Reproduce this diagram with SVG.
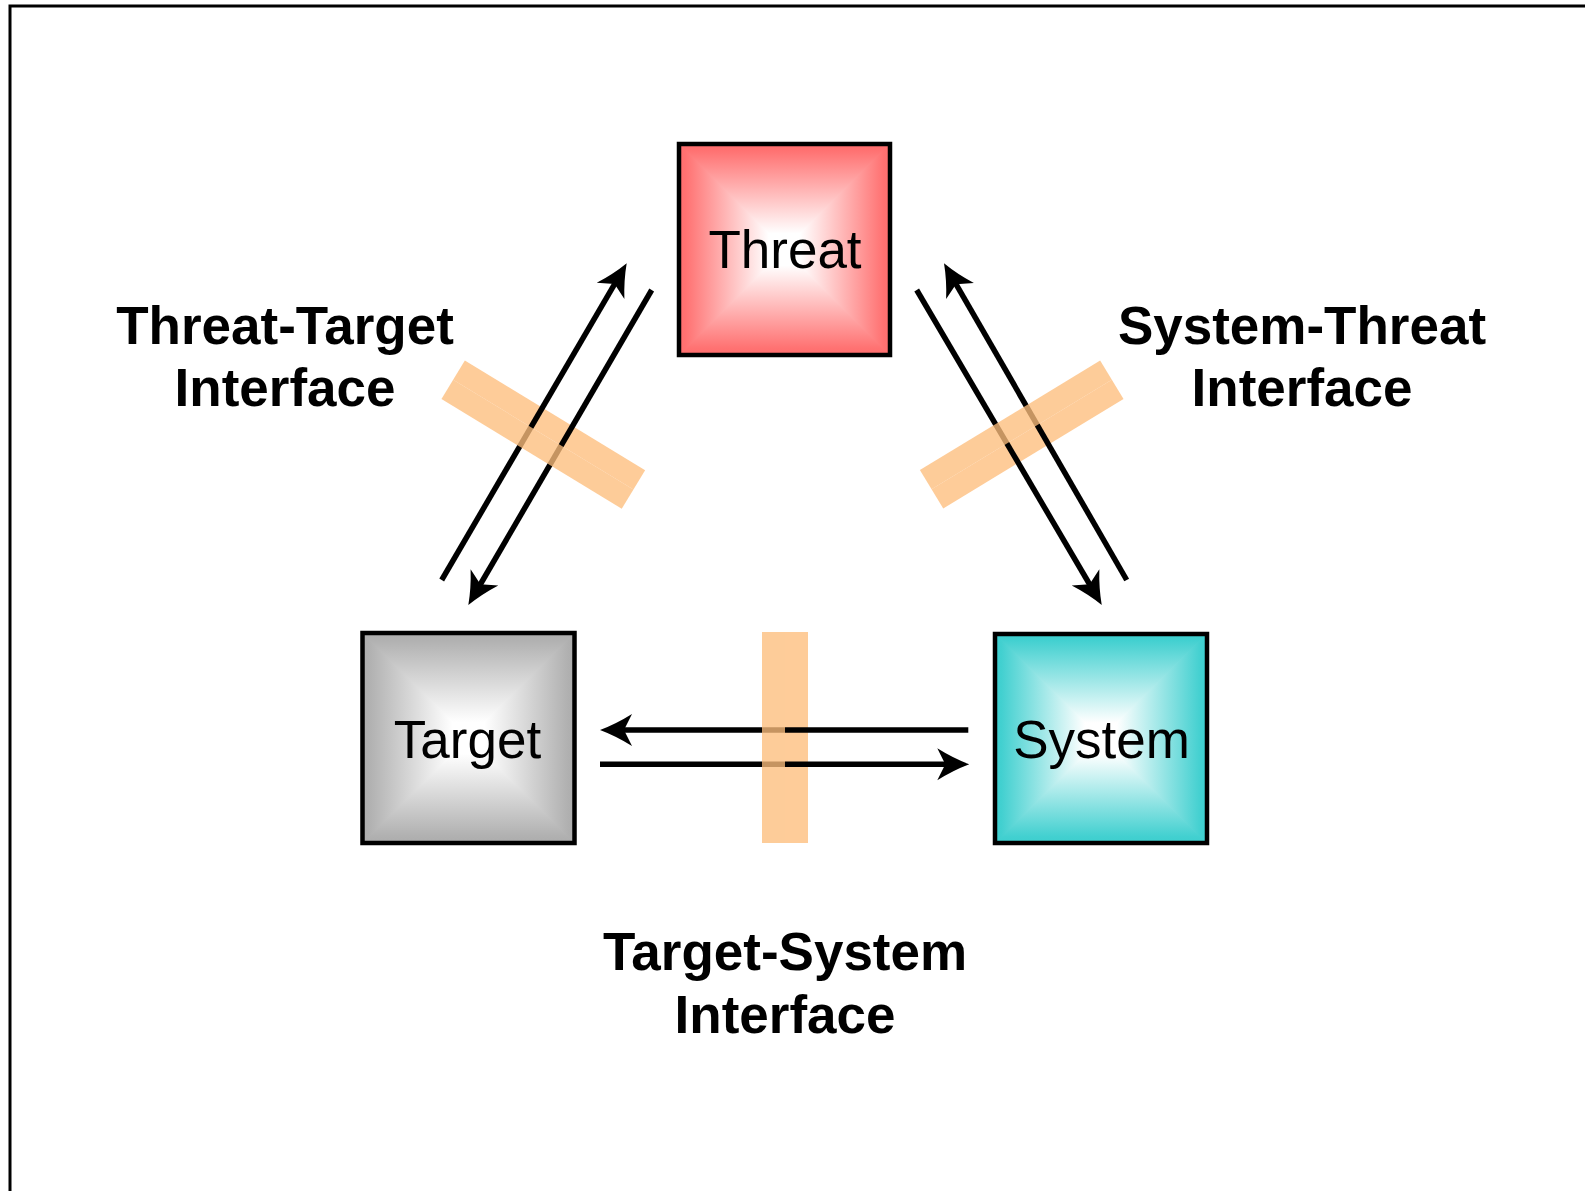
<svg xmlns="http://www.w3.org/2000/svg" width="1585" height="1191" viewBox="0 0 1585 1191">
  <style>
    .node-text { font-family: "Liberation Sans", Arial, sans-serif; font-size: 53px; fill: #000; text-anchor: middle; }
    .label { font-family: "Liberation Sans", Arial, sans-serif; font-size: 53px; font-weight: bold; fill: #000; text-anchor: middle; }
    .box { fill: none; stroke: #000; stroke-width: 4.5; }
    .conn { fill: none; stroke: #000; stroke-width: 5.5; marker-end: url(#arrow); }
    .bar-under { fill: #FECC99; }
    .bar-over { fill: #FCBE7C; fill-opacity: 0.78; }
    .tri { stroke-width: 1.2; }
  </style>
  <defs>
    <marker id="arrow" markerUnits="userSpaceOnUse" orient="auto" markerWidth="40" markerHeight="40" refX="0" refY="0" overflow="visible">
      <path d="M22,0 Q6,-6 -10,-16 L-2,0 L-10,16 Q6,6 22,0 Z" fill="#000"/>
    </marker>
    <!-- red -->
    <linearGradient id="rT" x1="0" y1="0" x2="0" y2="1"><stop offset="0" stop-color="#FF6E6E"/><stop offset="0.06" stop-color="#FF7171"/><stop offset="0.85" stop-color="#FFFFFF"/></linearGradient>
    <linearGradient id="rB" x1="0" y1="1" x2="0" y2="0"><stop offset="0" stop-color="#FF6E6E"/><stop offset="0.06" stop-color="#FF7171"/><stop offset="0.85" stop-color="#FFFFFF"/></linearGradient>
    <linearGradient id="rL" x1="0" y1="0" x2="1" y2="0"><stop offset="0" stop-color="#FF6E6E"/><stop offset="0.06" stop-color="#FF7171"/><stop offset="0.85" stop-color="#FFFFFF"/></linearGradient>
    <linearGradient id="rR" x1="1" y1="0" x2="0" y2="0"><stop offset="0" stop-color="#FF6E6E"/><stop offset="0.06" stop-color="#FF7171"/><stop offset="0.85" stop-color="#FFFFFF"/></linearGradient>
    <!-- gray -->
    <linearGradient id="gT" x1="0" y1="0" x2="0" y2="1"><stop offset="0" stop-color="#ADADAD"/><stop offset="0.06" stop-color="#B0B0B0"/><stop offset="0.85" stop-color="#FFFFFF"/></linearGradient>
    <linearGradient id="gB" x1="0" y1="1" x2="0" y2="0"><stop offset="0" stop-color="#ADADAD"/><stop offset="0.06" stop-color="#B0B0B0"/><stop offset="0.85" stop-color="#FFFFFF"/></linearGradient>
    <linearGradient id="gL" x1="0" y1="0" x2="1" y2="0"><stop offset="0" stop-color="#ADADAD"/><stop offset="0.06" stop-color="#B0B0B0"/><stop offset="0.85" stop-color="#FFFFFF"/></linearGradient>
    <linearGradient id="gR" x1="1" y1="0" x2="0" y2="0"><stop offset="0" stop-color="#ADADAD"/><stop offset="0.06" stop-color="#B0B0B0"/><stop offset="0.85" stop-color="#FFFFFF"/></linearGradient>
    <!-- teal -->
    <linearGradient id="tT" x1="0" y1="0" x2="0" y2="1"><stop offset="0" stop-color="#3ECFCF"/><stop offset="0.06" stop-color="#42D0D0"/><stop offset="0.85" stop-color="#FFFFFF"/></linearGradient>
    <linearGradient id="tB" x1="0" y1="1" x2="0" y2="0"><stop offset="0" stop-color="#3ECFCF"/><stop offset="0.06" stop-color="#42D0D0"/><stop offset="0.85" stop-color="#FFFFFF"/></linearGradient>
    <linearGradient id="tL" x1="0" y1="0" x2="1" y2="0"><stop offset="0" stop-color="#3ECFCF"/><stop offset="0.06" stop-color="#42D0D0"/><stop offset="0.85" stop-color="#FFFFFF"/></linearGradient>
    <linearGradient id="tR" x1="1" y1="0" x2="0" y2="0"><stop offset="0" stop-color="#3ECFCF"/><stop offset="0.06" stop-color="#42D0D0"/><stop offset="0.85" stop-color="#FFFFFF"/></linearGradient>
  </defs>

  <rect x="0" y="0" width="1585" height="1191" fill="#FFFFFF"/>
  <rect x="10" y="6" width="1600" height="1200" fill="none" stroke="#000" stroke-width="3"/>

  <!-- interface bars: lower layers -->
  <g id="interfaces-under">
    <rect class="bar-under" x="785" y="632" width="23" height="211"/>
    <g transform="translate(543.3,434.6) rotate(31.3)"><rect class="bar-under" x="-105.5" y="-22.5" width="211" height="22.5"/></g>
    <g transform="translate(1021.7,434.5) rotate(-31.3)"><rect class="bar-under" x="-105.5" y="0" width="211" height="22.5"/></g>
  </g>

  <g id="connectors">
    <line class="conn" x1="441.7" y1="580" x2="615.6" y2="282.3"/>
    <line class="conn" x1="651.7" y1="290" x2="479.4" y2="586"/>
    <line class="conn" x1="916.7" y1="290" x2="1090.6" y2="586"/>
    <line class="conn" x1="1126.7" y1="580" x2="955" y2="282.4"/>
    <line class="conn" x1="968.3" y1="730" x2="622" y2="730"/>
    <line class="conn" x1="600" y1="764.3" x2="947.3" y2="764.3"/>
  </g>

  <!-- interface bars: upper semi-transparent layers -->
  <g id="interfaces-over">
    <rect class="bar-over" x="762" y="632" width="23" height="211"/>
    <g transform="translate(543.3,434.6) rotate(31.3)"><rect class="bar-over" x="-105.5" y="0" width="211" height="22.5"/></g>
    <g transform="translate(1021.7,434.5) rotate(-31.3)"><rect class="bar-over" x="-105.5" y="-22.5" width="211" height="22.5"/></g>
  </g>

  <g id="node-threat">
    <polygon class="tri" points="679,144 890,144 784.5,249.5" fill="url(#rT)" stroke="url(#rT)"/>
    <polygon class="tri" points="679,355 890,355 784.5,249.5" fill="url(#rB)" stroke="url(#rB)"/>
    <polygon class="tri" points="679,144 679,355 784.5,249.5" fill="url(#rL)" stroke="url(#rL)"/>
    <polygon class="tri" points="890,144 890,355 784.5,249.5" fill="url(#rR)" stroke="url(#rR)"/>
    <rect class="box" x="679" y="144" width="211" height="211"/>
    <text class="node-text" x="785" y="268">Threat</text>
  </g>

  <g id="node-target">
    <polygon class="tri" points="362.5,633 574.5,633 468.5,738" fill="url(#gT)" stroke="url(#gT)"/>
    <polygon class="tri" points="362.5,843 574.5,843 468.5,738" fill="url(#gB)" stroke="url(#gB)"/>
    <polygon class="tri" points="362.5,633 362.5,843 468.5,738" fill="url(#gL)" stroke="url(#gL)"/>
    <polygon class="tri" points="574.5,633 574.5,843 468.5,738" fill="url(#gR)" stroke="url(#gR)"/>
    <rect class="box" x="362.5" y="633" width="212" height="210"/>
    <text class="node-text" x="467.5" y="758">Target</text>
  </g>

  <g id="node-system">
    <polygon class="tri" points="995,634 1207,634 1101,738.5" fill="url(#tT)" stroke="url(#tT)"/>
    <polygon class="tri" points="995,843 1207,843 1101,738.5" fill="url(#tB)" stroke="url(#tB)"/>
    <polygon class="tri" points="995,634 995,843 1101,738.5" fill="url(#tL)" stroke="url(#tL)"/>
    <polygon class="tri" points="1207,634 1207,843 1101,738.5" fill="url(#tR)" stroke="url(#tR)"/>
    <rect class="box" x="995" y="634" width="212" height="209"/>
    <text class="node-text" x="1101.5" y="758">System</text>
  </g>

  <g id="labels">
    <text class="label" x="285" y="344">Threat-Target</text>
    <text class="label" x="285" y="406">Interface</text>
    <text class="label" x="1302" y="344">System-Threat</text>
    <text class="label" x="1302" y="406">Interface</text>
    <text class="label" x="785" y="970">Target-System</text>
    <text class="label" x="785" y="1033">Interface</text>
  </g>
</svg>
